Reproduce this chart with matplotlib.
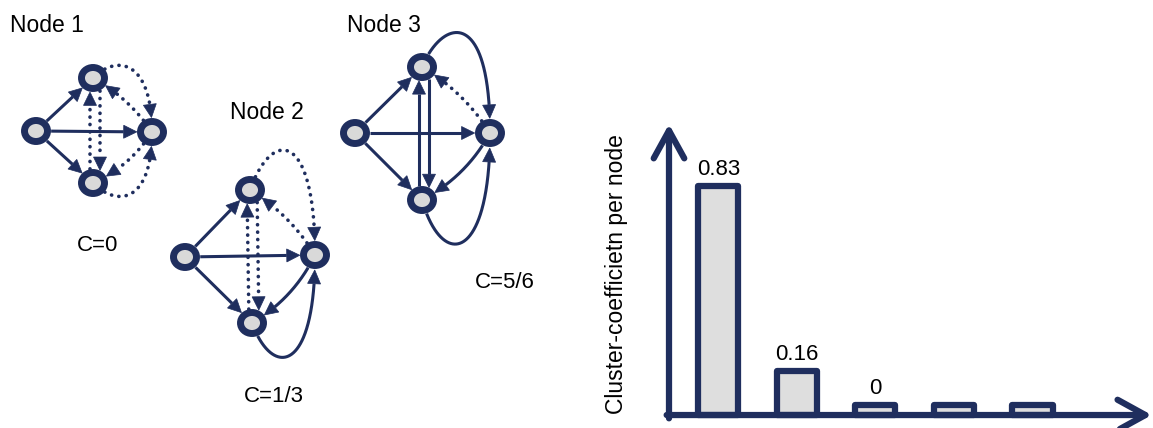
import numpy as np
import matplotlib
matplotlib.use("Agg")
import matplotlib.pyplot as plt
from matplotlib.patches import Ellipse, Polygon

plt.rcParams['font.family'] = ['Liberation Sans', 'DejaVu Sans']

navy = "#1f2e5e"
node_fill = "#d9d9d9"
bar_fill = "#dedede"

# bar chart values
bar_pos = [0, 1, 2, 3, 4]
cluster_coef = [0.83, 0.16, 0, 0, 0]
bar_text = ["0.83", "0.16", "0", "", ""]

# the three little sketches
graph_ids = [1, 2, 3]
graph_titles = ["Node 1", "Node 2", "Node 3"]
graph_c = ["C=0", "C=1/3", "C=5/6"]
title_xy = [(10, 25), (230, 112), (347, 25)]
c_xy = [(98, 245), (274, 397), (505, 282)]

# node centres in pixels (left, top, right, bottom), y goes down
node_xy = {
    1: [(36, 131), (93, 78), (152, 132), (93, 183)],
    2: [(185, 257), (250, 190), (315, 255), (252, 323)],
    3: [(355, 133), (422, 67), (490, 133), (422, 200)],
}
# neighbour links, True = real link (solid), False = missing (dotted)
# order: top->bottom, bottom->top, top->right, right->top, bottom->right, right->bottom
links = {
    1: [False, False, False, False, False, False],
    2: [False, False, False, False, True, True],
    3: [True, True, True, False, True, True],
}
# how far the outer loops swing out
arc_up = {1: (25, 25, 70), 2: (22, 62, 125), 3: (20, 48, 128)}
arc_down = {1: (25, 25, 70), 2: (20, 55, 120), 3: (20, 70, 130)}

RX, RY = 15.0, 14.0   # outer radius of a node
HEAD, HW = 13.0, 6.5  # arrow head length / half width


def curve(pts, n=300):
    t = np.linspace(0, 1, n)[:, None]
    p = [np.array(q, float) for q in pts]
    if len(p) == 2:
        return (1 - t) * p[0] + t * p[1]
    if len(p) == 3:
        return (1 - t) ** 2 * p[0] + 2 * (1 - t) * t * p[1] + t ** 2 * p[2]
    return ((1 - t) ** 3 * p[0] + 3 * (1 - t) ** 2 * t * p[1]
            + 3 * (1 - t) * t ** 2 * p[2] + t ** 3 * p[3])


def inside(path, c):
    return ((path[:, 0] - c[0]) / RX) ** 2 + ((path[:, 1] - c[1]) / RY) ** 2 < 1


def draw_edge(ax, path, a, b, solid):
    keep = ~inside(path, a) & ~inside(path, b)
    idx = np.where(keep)[0]
    path = path[idx[0]:idx[-1] + 1]
    tip = path[-1]
    rev = path[::-1]
    dist = np.cumsum(np.r_[0, np.hypot(*np.diff(rev, axis=0).T)])
    j = min(np.searchsorted(dist, HEAD), len(rev) - 1)
    base = rev[j]
    d = (tip - base) / np.linalg.norm(tip - base)
    nrm = np.array([-d[1], d[0]])
    ax.add_patch(Polygon([tip, base + nrm * HW, base - nrm * HW], closed=True,
                         facecolor=navy, edgecolor=navy, lw=0.5, zorder=3))
    line = path[:len(path) - j]
    if solid:
        ax.plot(line[:, 0], line[:, 1], color=navy, lw=2.2, solid_capstyle='butt', zorder=2)
    else:
        ax.plot(line[:, 0], line[:, 1], color=navy, lw=2.6, ls=(0, (0.05, 2.0)),
                dash_capstyle='round', zorder=2)


def bend(p, q, k):
    p, q = np.array(p, float), np.array(q, float)
    d = q - p
    return [p, (p + q) / 2 + k * np.array([-d[1], d[0]]), q]


fig = plt.figure(figsize=(11.53, 4.28), dpi=100)
ax = fig.add_axes([0, 0, 1, 1])
ax.set_xlim(0, 1153)
ax.set_ylim(428, 0)
ax.axis('off')

for g, title, cl, txy, cxy in zip(graph_ids, graph_titles, graph_c, title_xy, c_xy):
    L, T, R, B = [np.array(p, float) for p in node_xy[g]]
    s = links[g]
    # ego node to its three neighbours
    for n in (T, R, B):
        draw_edge(ax, curve([L, n]), L, n, True)
    # vertical pair
    draw_edge(ax, curve([T + (7, 0), B + (7, 0)]), T, B, s[0])
    draw_edge(ax, curve([B + (-3, 0), T + (-3, 0)]), B, T, s[1])
    # top -> right outer loop, right -> top inner
    a1, b1, c1 = arc_up[g]
    draw_edge(ax, curve([T, T + (a1, -b1), R + (0, -c1), R]), T, R, s[2])
    draw_edge(ax, curve(bend(R, T, 0.12)), R, T, s[3])
    # bottom -> right outer loop, right -> bottom inner
    a2, b2, c2 = arc_down[g]
    draw_edge(ax, curve([B, B + (a2, b2), R + (0, c2), R]), B, R, s[4])
    draw_edge(ax, curve(bend(R, B, -0.15)), R, B, s[5])
    for n in (L, T, R, B):
        ax.add_patch(Ellipse(n, 23, 21, facecolor=node_fill, edgecolor=navy, lw=5, zorder=4))
    ax.text(txy[0], txy[1], title, fontsize=16.5, ha='left', va='center')
    ax.text(cxy[0], cxy[1], cl, fontsize=16, ha='center', va='center')

ax.text(617, 274, "Cluster-coefficietn per node", fontsize=16.5, rotation=90,
        ha='center', va='center')

# bar chart
ax2 = fig.add_axes([669 / 1153, 0, (1153 - 669) / 1153, (428 - 110) / 428])
ax2.set_xlim(-0.63, 5.535)
ax2.set_ylim(-0.047, 1.105)
ax2.axis('off')
shown = np.maximum(cluster_coef, 0.035)
bars = ax2.bar(bar_pos, shown, width=0.51, facecolor=bar_fill, edgecolor=navy,
               lw=4.5, zorder=2)
for b in bars:
    b.set_joinstyle('round')
for x, h, t in zip(bar_pos, shown, bar_text):
    ax2.text(x, h + 0.04, t, fontsize=16, ha='center', va='baseline')

arrow = dict(arrowstyle='->,head_length=1.0,head_width=0.55', lw=4.5, color=navy,
             shrinkA=0, shrinkB=0, mutation_scale=20, capstyle='round', joinstyle='round')
ax2.annotate('', xy=(-0.63, 1.054), xytext=(-0.63, -0.012), arrowprops=arrow,
             annotation_clip=False)
ax2.annotate('', xy=(5.52, 0), xytext=(-0.66, 0), arrowprops=arrow,
             annotation_clip=False)

fig.savefig("out.png", dpi=100)
